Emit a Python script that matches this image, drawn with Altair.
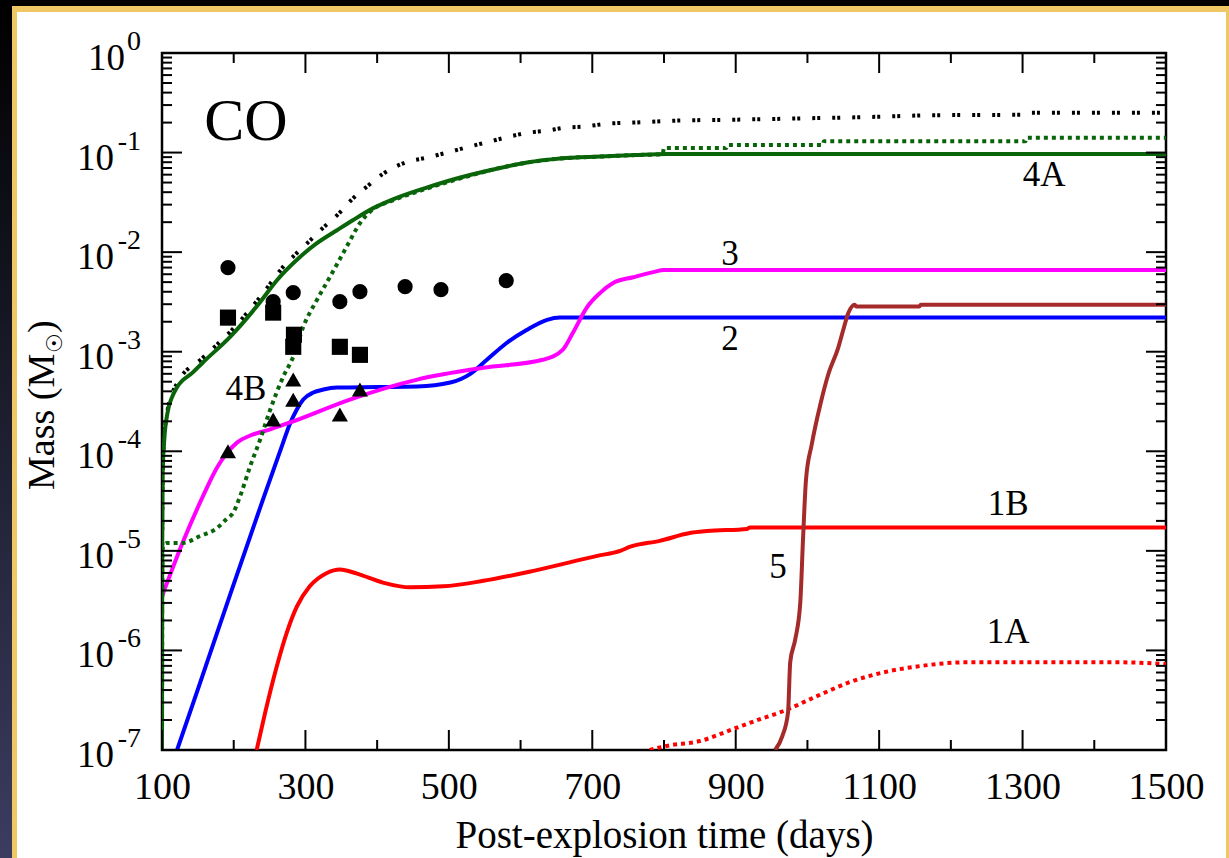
import altair as alt
import pandas as pd

# ---------------- model curves: post-explosion day vs CO mass (Msun) ----------------
total_day = [100, 100.3, 101, 103, 108, 121, 157, 195, 237, 271, 288, 304, 324, 344, 365, 386,
             407, 439, 470, 502, 529, 557, 585, 610, 637, 662, 687, 721, 757, 813, 900, 1000,
             1100, 1170, 1300, 1310, 1500]
total_mass = [1e-7, 1e-5, 6.6e-5, 1.32e-4, 2.63e-4, 4.8e-4, 8.7e-4, 1.58e-3, 3.55e-3, 7.4e-3,
              9.8e-3, 1.26e-2, 1.74e-2, 2.34e-2, 3.39e-2, 4.57e-2, 6.03e-2, 7.94e-2, 8.91e-2,
              0.102, 0.115, 0.129, 0.145, 0.158, 0.166, 0.178, 0.182, 0.195, 0.200, 0.209,
              0.214, 0.221, 0.229, 0.237, 0.240, 0.251, 0.251]

m4a_day = [100, 100.3, 101, 103, 108, 114, 121, 143, 157, 195, 237, 260, 292, 316, 344, 366,
           394, 422, 470, 516, 562, 609, 655, 711, 760, 804, 900, 1500]
m4a_mass = [1e-7, 1e-5, 6.3e-5, 1.26e-4, 2.5e-4, 3.5e-4, 4.4e-4, 6.2e-4, 7.8e-4, 1.41e-3,
            3.16e-3, 5.2e-3, 8.9e-3, 1.23e-2, 1.66e-2, 2.09e-2, 2.75e-2, 3.39e-2, 4.47e-2,
            5.62e-2, 6.76e-2, 7.94e-2, 8.71e-2, 9.12e-2, 9.44e-2, 9.66e-2, 9.7e-2, 9.7e-2]

m4b_day = [100, 100.3, 101, 107, 129, 153, 177, 190, 199, 209, 223, 237, 251, 269, 283, 297,
           316, 334, 358, 376, 394, 422, 470, 516, 562, 609, 655, 711, 760, 798, 800, 887,
           889, 1021, 1023, 1304, 1306, 1500]
m4b_mass = [1e-7, 3.2e-6, 1.12e-5, 1.2e-5, 1.2e-5, 1.41e-5, 1.7e-5, 2.09e-5, 2.4e-5, 3.55e-5,
            7.1e-5, 1.32e-4, 2.63e-4, 5.6e-4, 8.9e-4, 1.78e-3, 3.31e-3, 5.6e-3, 1.15e-2,
            1.95e-2, 2.69e-2, 3.31e-2, 4.37e-2, 5.5e-2, 6.76e-2, 7.94e-2, 8.71e-2, 9.12e-2,
            9.44e-2, 9.6e-2, 0.111, 0.111, 0.119, 0.119, 0.130, 0.130, 0.141, 0.141]

m2_day = [121, 150, 195, 240, 269, 278, 288, 297, 311, 325, 344, 400, 456, 502, 530, 553,
          581, 609, 637, 655, 1500]
m2_mass = [1e-7, 4.07e-7, 3.63e-6, 3.16e-5, 1.23e-4, 1.86e-4, 2.63e-4, 3.31e-4, 3.89e-4,
           4.17e-4, 4.37e-4, 4.42e-4, 4.47e-4, 4.9e-4, 6.0e-4, 8.3e-4, 1.23e-3, 1.66e-3,
           2.09e-3, 2.2e-3, 2.2e-3]

m3_day = [100, 129, 157, 177, 191, 205, 223, 251, 283, 362, 456, 548, 631, 659, 673, 693,
          711, 729, 757, 785, 800, 1500]
m3_mass = [3.5e-6, 1.22e-5, 3.52e-5, 6.9e-5, 9.7e-5, 1.23e-4, 1.44e-4, 1.66e-4, 2.0e-4,
           3.31e-4, 5.25e-4, 6.9e-4, 8.3e-4, 1.05e-3, 1.55e-3, 2.82e-3, 3.9e-3, 4.9e-3,
           5.6e-3, 6.3e-3, 6.6e-3, 6.6e-3]

m1b_day = [232, 244, 260, 274, 288, 306, 330, 348, 372, 408, 446, 492, 548, 618, 707, 739,
           753, 794, 836, 860, 916, 920, 1500]
m1b_mass = [1e-7, 2.4e-7, 6.9e-7, 1.51e-6, 2.75e-6, 4.4e-6, 6.0e-6, 6.5e-6, 5.9e-6, 4.8e-6,
            4.3e-6, 4.4e-6, 5.0e-6, 6.3e-6, 8.9e-6, 1.0e-5, 1.1e-5, 1.26e-5, 1.51e-5,
            1.58e-5, 1.66e-5, 1.72e-5, 1.72e-5]

m1a_day = [780, 804, 850, 896, 934, 966, 1013, 1059, 1105, 1153, 1223, 1432, 1500]
m1a_mass = [1e-7, 1.1e-7, 1.23e-7, 1.62e-7, 2.04e-7, 2.45e-7, 3.47e-7, 4.8e-7, 6.0e-7,
            6.9e-7, 7.6e-7, 7.6e-7, 7.3e-7]

m5_day = [955, 965, 973, 976, 983, 990, 994, 998, 1006, 1018, 1029, 1043, 1050, 1057, 1066,
          1068, 1156, 1158, 1500]
m5_mass = [1e-7, 1.38e-7, 2.4e-7, 7.6e-7, 1.29e-6, 3.0e-6, 1.38e-5, 5.2e-5, 1.17e-4,
           2.95e-4, 5.9e-4, 1.10e-3, 1.66e-3, 2.45e-3, 2.97e-3, 2.84e-3, 2.84e-3, 2.97e-3,
           2.97e-3]

# ---------------- observational estimates ----------------
circ_day = [192, 255, 283, 348, 376, 439, 489, 580]
circ_mass = [6.98e-3, 3.18e-3, 3.92e-3, 3.18e-3, 4.01e-3, 4.50e-3, 4.20e-3, 5.17e-3]
sq_day = [192, 255, 284, 283, 348, 376]
sq_mass = [2.2e-3, 2.47e-3, 1.48e-3, 1.12e-3, 1.12e-3, 9.3e-4]
tri_day = [192, 255, 283, 283, 348, 376]
tri_mass = [1.0e-4, 2.09e-4, 5.25e-4, 3.3e-4, 2.34e-4, 4.17e-4]

# ---------------- curve annotations ----------------
lab_text = ["4A", "3", "2", "1B", "1A", "5", "4B"]
lab_day = [1330, 892, 892, 1280, 1280, 959, 217]
lab_mass = [5.97e-2, 9.64e-3, 1.35e-3, 2.93e-5, 1.52e-6, 6.84e-6, 4.27e-4]

# ---------------- axis ticks ----------------
x_major = [100, 300, 500, 700, 900, 1100, 1300, 1500]
x_minor = [200, 400, 600, 800, 1000, 1200, 1400]
dec_exp = ["0", "-1", "-2", "-3", "-4", "-5", "-6", "-7"]
dec_val = [1.0, 1e-1, 1e-2, 1e-3, 1e-4, 1e-5, 1e-6, 1e-7]
y_minor = [m * 10.0 ** k for k in range(-7, 0) for m in range(2, 10)]

W, H = 1004, 697
SERIF = "Liberation Serif"

xs = alt.Scale(domain=[100, 1500], nice=False, zero=False)
ys = alt.Scale(type="log", domain=[1e-7, 1], nice=False)
x_axis = alt.Axis(values=x_major, format="d", ticks=False, tickSize=0, domain=False,
                  grid=False, labelFont=SERIF, labelFontSize=38, labelColor="black",
                  labelPadding=48, labelBaseline="alphabetic", labelFlush=False,
                  labelOverlap=False, title="Post-explosion time (days)", titleFont=SERIF,
                  titleFontSize=39, titleFontWeight="normal", titleColor="black",
                  titleBaseline="alphabetic", titleY=97, zindex=1)


def X(field="day"):
    return alt.X(f"{field}:Q", scale=xs, axis=x_axis)


def Y(field="mass"):
    return alt.Y(f"{field}:Q", scale=ys, axis=None)


def curve(days, masses, color, dash=None):
    df = pd.DataFrame({"day": days, "mass": masses, "i": range(len(days))})
    kw = dict(color=color, strokeWidth=4, clip=True, strokeCap="butt", interpolate="monotone")
    if dash:
        kw["strokeDash"] = dash
    return alt.Chart(df).mark_line(**kw).encode(x=X(), y=Y(), order="i:Q")


one = alt.Data(values=[{"k": 1}])


def band(x0, x1, y0, y1, color):
    return alt.Chart(one).mark_rect(color=color).encode(
        x=alt.value(x0), x2=alt.value(x1), y=alt.value(y0), y2=alt.value(y1))


# decorative frame around the figure (positions relative to the plot origin)
edge = alt.LinearGradient(gradient="linear", x1=0, x2=0, y1=0, y2=1,
                          stops=[alt.GradientStop(color="#000000", offset=0),
                                 alt.GradientStop(color="#3c3c60", offset=1)])
gold = "#efc865"
frame_layers = [
    band(-162, -150, -53, 805, edge),
    band(-162, 1067, -53, -47, "#000000"),
    band(-150, 1067, -47, -41, gold),
    band(-150, -145, -47, 805, gold),
    band(1064, 1067, -47, 805, gold),
]

curves = [
    curve(total_day, total_mass, "black", [3, 2, 3, 12]),
    curve(m1a_day, m1a_mass, "#ff0000", [4, 4]),
    curve(m1b_day, m1b_mass, "#ff0000"),
    curve(m2_day, m2_mass, "#0000ff"),
    curve(m3_day, m3_mass, "#ff00ff"),
    curve(m4b_day, m4b_mass, "#0a640a", [4, 4]),
    curve(m4a_day, m4a_mass, "#0a640a"),
    curve(m5_day, m5_mass, "#a52a2a"),
]


def obs(days, masses, shape, size):
    df = pd.DataFrame({"day": days, "mass": masses})
    return alt.Chart(df).mark_point(shape=shape, size=size, filled=True, color="black",
                                    opacity=1, strokeWidth=0).encode(x=X(), y=Y())


points = [obs(circ_day, circ_mass, "circle", 230),
          obs(sq_day, sq_mass, "square", 260),
          obs(tri_day, tri_mass, "triangle-up", 260)]


def xticks(vals, length, top):
    df = pd.DataFrame({"t": vals})
    y0, y1 = (0, length) if top else (H, H - length)
    return alt.Chart(df).mark_rule(color="black", strokeWidth=2).encode(
        x=X("t"), y=alt.value(y0), y2=alt.value(y1))


def yticks(vals, length, right):
    df = pd.DataFrame({"t": vals})
    x0, x1 = (W, W - length) if right else (0, length)
    return alt.Chart(df).mark_rule(color="black", strokeWidth=2).encode(
        y=Y("t"), x=alt.value(x0), x2=alt.value(x1))


ticks = [xticks(x_major, 20, False), xticks(x_minor, 10, False),
         xticks(x_major, 20, True), xticks(x_minor, 10, True),
         yticks(dec_val, 20, False), yticks(y_minor, 10, False),
         yticks(dec_val, 20, True), yticks(y_minor, 10, True)]

# y tick labels: "10" with a raised exponent
dec_df = pd.DataFrame({"mass": dec_val, "exp": dec_exp})
base_rest = alt.Chart(dec_df).transform_filter("datum.exp != '0'").mark_text(
    text="10", font=SERIF, fontSize=37, align="right", baseline="alphabetic", dy=17,
    color="black").encode(y=Y(), x=alt.value(-48))
base_zero = alt.Chart(dec_df).transform_filter("datum.exp == '0'").mark_text(
    text="10", font=SERIF, fontSize=37, align="right", baseline="alphabetic", dy=17,
    color="black").encode(y=Y(), x=alt.value(-37))
expo = alt.Chart(dec_df).mark_text(
    font=SERIF, fontSize=28, align="right", baseline="alphabetic", dy=-3,
    color="black").encode(y=Y(), x=alt.value(-21), text="exp:N")

# y title: Mass (M_sun)
ytitle = [
    alt.Chart(one).mark_text(text="Mass (M", font=SERIF, fontSize=38, angle=270,
                             align="left", baseline="alphabetic", color="black").encode(
        x=alt.value(-108), y=alt.value(437)),
    alt.Chart(one).mark_text(text="\u2609", font="DejaVu Sans", fontSize=22, angle=270,
                             align="left", baseline="alphabetic", color="black").encode(
        x=alt.value(-100), y=alt.value(300)),
    alt.Chart(one).mark_text(text=")", font=SERIF, fontSize=38, angle=270,
                             align="left", baseline="alphabetic", color="black").encode(
        x=alt.value(-108), y=alt.value(280)),
]

lab_df = pd.DataFrame({"day": lab_day, "mass": lab_mass, "txt": lab_text})
labels = alt.Chart(lab_df).mark_text(font=SERIF, fontSize=35, color="black",
                                     baseline="middle").encode(x=X(), y=Y(), text="txt:N")
co_df = pd.DataFrame({"day": [217], "mass": [0.203], "txt": ["CO"]})
co = alt.Chart(co_df).mark_text(font=SERIF, fontSize=60, color="black",
                                baseline="middle").encode(x=X(), y=Y(), text="txt:N")

chart = alt.layer(
    *frame_layers, *curves, *points, *ticks, base_rest, base_zero, expo, *ytitle, labels, co
).properties(
    width=W, height=H,
    autosize=alt.AutoSizeParams(type="none"),
    padding={"left": 162, "top": 53, "right": 63, "bottom": 108},
).configure(background="white").configure_view(stroke="black", strokeWidth=2.5)

chart.save("out.html", embed_options={"renderer": "svg", "actions": False})
